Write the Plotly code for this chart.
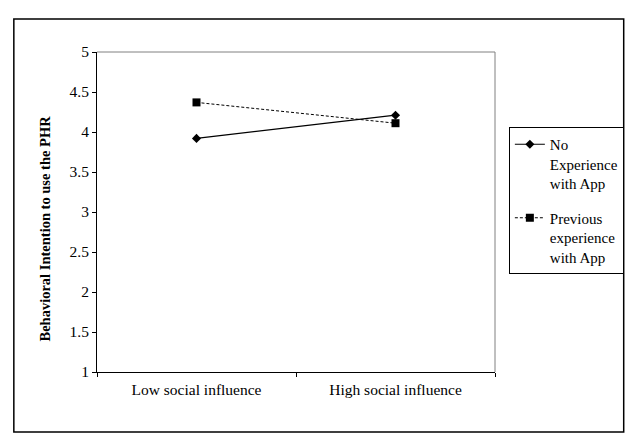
import plotly.graph_objects as go

categories = ["Low social influence", "High social influence"]
no_experience = [3.92, 4.21]
previous_experience = [4.37, 4.11]
series_names = ["No<br>Experience<br>with App", "Previous<br>experience<br>with App"]
y_ticks = [1, 1.5, 2, 2.5, 3, 3.5, 4, 4.5, 5]
y_title = "Behavioral Intention to use the PHR"

# the page body has an 8px margin; work in page pixels and shift
OFF = 8
W, H = 636 - OFF, 448 - OFF
L, R, T, B = 97 - OFF, 499 - OFF, 52 - OFF, 372 - OFF
pw, ph = R - L, B - T

def px(x):
    return (x - OFF - L) / pw

def py(y):
    return (B - (y - OFF)) / ph

font = "Liberation Serif, Times New Roman, serif"
FS = 15.5

fig = go.Figure()
fig.add_trace(go.Scatter(
    x=categories, y=no_experience, name=series_names[0], mode="lines+markers",
    legendgroup="a",
    line=dict(color="black", width=1.2),
    marker=dict(symbol="diamond", size=7, color="black"),
))
fig.add_trace(go.Scatter(
    x=categories, y=previous_experience, name=series_names[1], mode="lines+markers",
    legendgroup="b",
    line=dict(color="black", width=1, dash="3px,2px"),
    marker=dict(symbol="square", size=8, color="black"),
))

fig.update_layout(
    width=W, height=H,
    margin=dict(l=L, r=W - R, t=T, b=H - B, pad=0),
    paper_bgcolor="white", plot_bgcolor="white",
    font=dict(family=font, size=FS, color="black"),
    showlegend=True,
    legend=dict(
        x=px(513), y=py(127), xanchor="left", yanchor="top",
        bordercolor="black", borderwidth=1, bgcolor="white",
        font=dict(family=font, size=15, color="black"),
        valign="top", traceorder="grouped", tracegroupgap=12, itemwidth=30,
    ),
    xaxis=dict(
        type="category", range=[-0.5, 1.5], tickson="boundaries",
        ticks="outside", ticklen=4, tickcolor="black",
        showline=True, linecolor="black", linewidth=1,
        showgrid=False, zeroline=False, ticklabelstandoff=3,
        tickfont=dict(family=font, size=FS, color="black"),
    ),
    yaxis=dict(
        range=[1, 5], tickvals=y_ticks, ticktext=[f"{v:g}" for v in y_ticks],
        ticks="outside", ticklen=4, tickcolor="black",
        showline=True, linecolor="black", linewidth=1,
        showgrid=False, zeroline=False,
        tickfont=dict(family=font, size=FS, color="black"),
    ),
    annotations=[
        dict(text="<b>" + y_title + "</b>", xref="paper", yref="paper",
             x=px(44), y=py(229), xanchor="center", yanchor="middle",
             textangle=-90, showarrow=False,
             font=dict(family=font, size=14.5, color="black")),
    ],
    shapes=[
        dict(type="line", xref="paper", yref="paper", x0=0, x1=1, y0=1, y1=1,
             line=dict(color="#808080", width=1)),
        dict(type="line", xref="paper", yref="paper", x0=1, x1=1, y0=0, y1=1,
             line=dict(color="#808080", width=1)),
        dict(type="rect", xref="paper", yref="paper",
             x0=px(13), x1=px(629), y0=py(432), y1=py(19),
             line=dict(color="black", width=1.5), fillcolor="rgba(0,0,0,0)", layer="below"),
    ],
)

fig.write_html("out.html")
